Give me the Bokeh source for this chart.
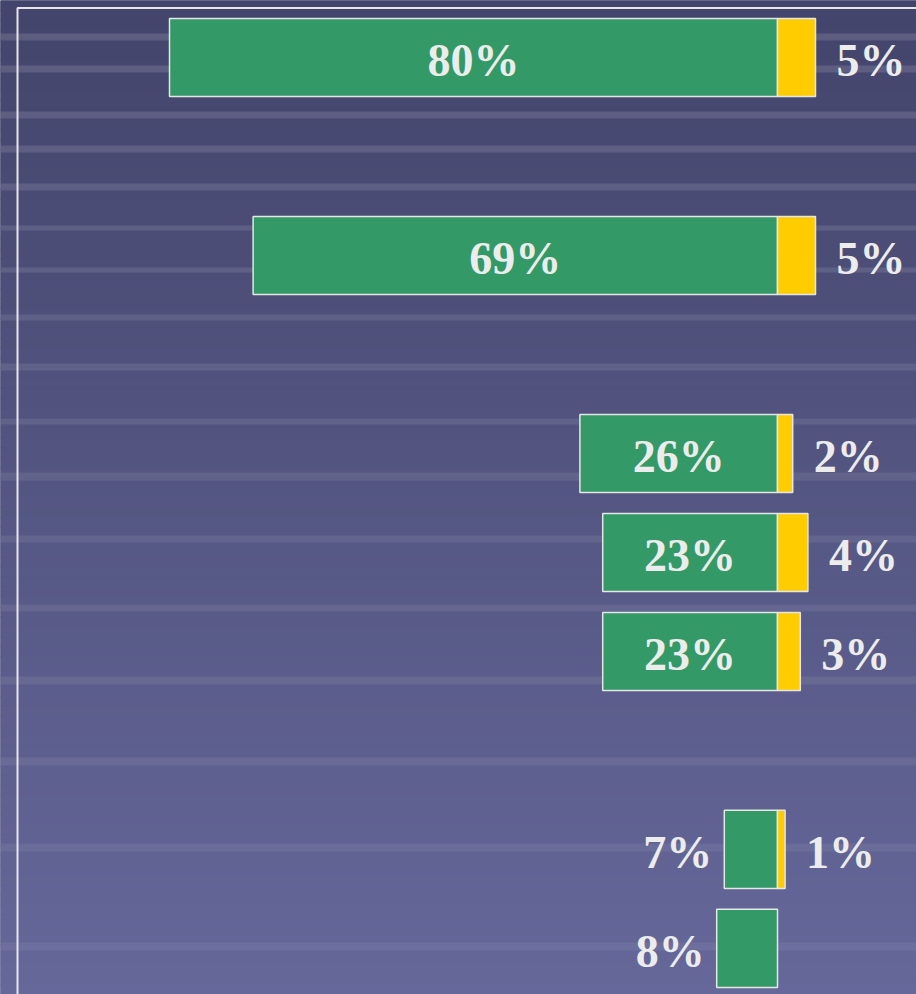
import numpy as np
from bokeh.plotting import figure
from bokeh.models import Range1d
from bokeh.core.properties import value
from bokeh.embed import file_html
from bokeh.resources import INLINE

# Data (row slot index, green share, yellow share)
rows = [0, 2, 4, 5, 6, 8, 9]
green = [80, 69, 26, 23, 23, 7, 8]
yellow = [5, 5, 2, 4, 3, 1, 0]

# decorative background stripes (pixel rows of the slide texture)
stripe_top_px = [33, 65, 111, 145, 183, 225, 267, 314, 363, 418, 472, 535, 604, 676, 757, 843, 942]
stripe_bot_px = [40, 72, 118, 152, 190, 230, 272, 320, 370, 424, 480, 542, 611, 684, 765, 851, 950]

GREEN = "#339966"
YELLOW = "#ffcc00"
EDGE = "#e6e6e6"
TXT = "#ececec"
FONT = value("Liberation Serif")

W, H = 916, 994
px_per_unit = 7.6
zero_px = 777
slot_px = 99.0
x0 = -zero_px / px_per_unit
x1 = (W - zero_px) / px_per_unit
y_top, y_bot = -0.576, 9.465

p = figure(width=W, height=H, output_backend="svg", toolbar_location=None,
           x_range=Range1d(x0, x1), y_range=Range1d(y_bot, y_top),
           min_border=0, outline_line_color=None)
p.axis.visible = False
p.grid.visible = False
p.background_fill_color = "#46486f"
p.border_fill_color = "#46486f"

# background vertical gradient
N = 100
edges = np.linspace(y_top, y_bot, N + 1)
c_top = np.array([0x44, 0x45, 0x6c])
c_bot = np.array([0x66, 0x68, 0x9a])
cols = []
for i in range(N):
    t = i / (N - 1)
    c = (c_top * (1 - t) + c_bot * t).astype(int)
    cols.append("#%02x%02x%02x" % tuple(c))
p.quad(left=x0, right=x1, top=edges[:-1], bottom=edges[1:], fill_color=cols,
       line_color=cols, line_width=1.2)

# texture stripes
st = [y_top + a / slot_px for a in stripe_top_px]
sb = [y_top + b / slot_px for b in stripe_bot_px]
alphas = [0.13 - 0.07 * i / (len(st) - 1) for i in range(len(st))]
p.quad(left=x0, right=x1, top=st, bottom=sb, fill_color="#ffffff",
       fill_alpha=alphas, line_color=None)

# frame lines (left edge at -100 %, top)
p.line(x=[-100, -100, x1], y=[y_bot, -0.5, -0.5], line_color=EDGE, line_width=2)

bh = 0.79
p.hbar(y=rows, left=[-g for g in green], right=0, height=bh, fill_color=GREEN,
       line_color=EDGE, line_width=1.5)
ys = [r for r, v in zip(rows, yellow) if v > 0]
yv = [v for v in yellow if v > 0]
p.hbar(y=ys, left=0, right=yv, height=bh, fill_color=YELLOW,
       line_color=EDGE, line_width=1.5)

FS = "46px"
# green labels
inside = [(r, g) for r, g in zip(rows, green) if g >= 15]
outside = [(r, g) for r, g in zip(rows, green) if g < 15]
p.text(x=[-g / 2 for r, g in inside], y=[r for r, g in inside],
       text=["%d%%" % g for r, g in inside], text_font=FONT, text_font_style="bold",
       text_font_size=FS, text_color=TXT, text_align="center",
       text_baseline="middle", y_offset=3)
p.text(x=[-g for r, g in outside], y=[r for r, g in outside],
       text=["%d%%" % g for r, g in outside], text_font=FONT, text_font_style="bold",
       text_font_size=FS, text_color=TXT, text_align="right",
       text_baseline="middle", x_offset=-12, y_offset=3)
# yellow labels
p.text(x=yv, y=ys, text=["%d%%" % v for v in yv],
       text_font=FONT, text_font_style="bold", text_font_size=FS,
       text_color=TXT, text_align="left", text_baseline="middle",
       x_offset=21, y_offset=3)

open("out.html", "w").write(file_html(p, INLINE))
